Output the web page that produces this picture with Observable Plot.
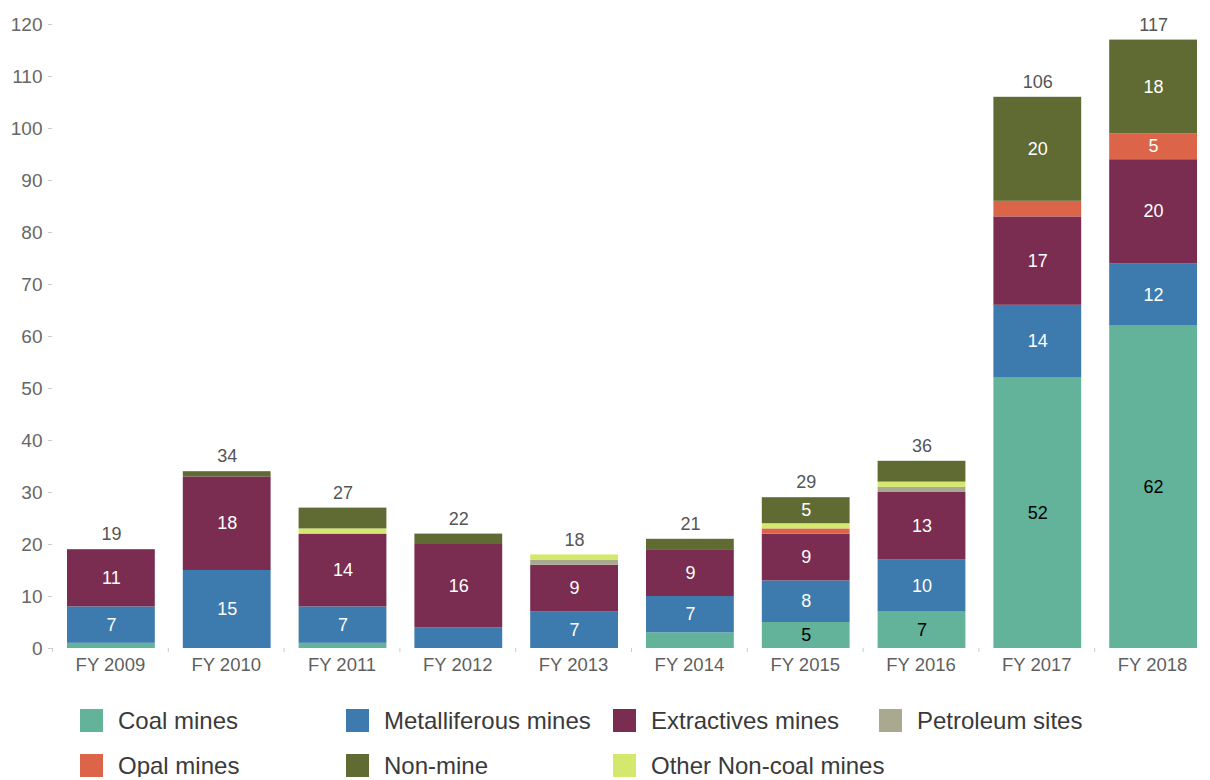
<!DOCTYPE html>
<html>
<head>
<meta charset="utf-8">
<script src="https://cdn.jsdelivr.net/npm/d3@7"></script>
<script src="https://cdn.jsdelivr.net/npm/@observablehq/plot@0.6"></script>
<style>
  html, body { margin: 0; background: #fff; overflow: hidden; font-family: "Liberation Sans", Arial, sans-serif; }
  #chart svg { display: block; max-width: none !important; }
  .legend { display: grid; grid-template-columns: 266px 267px 266px 266px; row-gap: 22px; margin-left: 80px; padding-top: 19px; }
  .item { display: flex; align-items: center; height: 23px; font-size: 24px; color: #3a3a3a; white-space: nowrap; }
  .sw { width: 23px; height: 23px; margin-right: 15px; flex: none; }
</style>
</head>
<body>
<div id="chart"></div>
<div class="legend" id="legend"></div>
<script>
const years = ["FY 2009","FY 2010","FY 2011","FY 2012","FY 2013","FY 2014","FY 2015","FY 2016","FY 2017","FY 2018"];
const categories = ["Coal mines","Metalliferous mines","Extractives mines","Petroleum sites","Opal mines","Other Non-coal mines","Non-mine"];
const colors = ["#63b39b","#3d7aad","#7a2d50","#a8a98f","#dc6448","#d5e86e","#606a33"];
const legendOrder = ["Coal mines","Metalliferous mines","Extractives mines","Petroleum sites","Opal mines","Non-mine","Other Non-coal mines"];

const coal        = [1, 0, 1, 0, 0, 3, 5, 7, 52, 62];
const metal       = [7, 15, 7, 4, 7, 7, 8, 10, 14, 12];
const extractives = [11, 18, 14, 16, 9, 9, 9, 13, 17, 20];
const petroleum   = [0, 0, 0, 0, 1, 0, 0, 1, 0, 0];
const opal        = [0, 0, 0, 0, 0, 0, 1, 0, 3, 5];
const otherNonCoal= [0, 0, 1, 0, 1, 0, 1, 1, 0, 0];
const nonMine     = [0, 1, 4, 2, 0, 2, 5, 4, 20, 18];
const yTicks = [0,10,20,30,40,50,60,70,80,90,100,110,120];

const series = [coal, metal, extractives, petroleum, opal, otherNonCoal, nonMine];
const data = [];
categories.forEach((c, ci) => years.forEach((y, yi) => data.push({year: y, cat: c, value: series[ci][yi]})));

const W = 1210, H = 690, ML = 52, MR = 0, MT = 24, MB = 42;
const step = (W - ML - MR) / years.length;
const font = '"Liberation Sans", Arial, sans-serif';

const stackOpts = {x: "year", y: "value", z: "cat", order: categories};

const chart = Plot.plot({
  width: W, height: H,
  marginLeft: ML, marginRight: MR, marginTop: MT, marginBottom: MB,
  style: {fontFamily: font, background: "#fff"},
  x: {domain: years, padding: 0, round: false},
  y: {domain: [0, 120]},
  color: {domain: categories, range: colors},
  marks: [
    Plot.axisY({ticks: yTicks, tickSize: 4, tickPadding: 6, stroke: "#cccccc", fill: "#666", fontSize: 19, label: null}),
    Plot.axisX({tickSize: 0, tickPadding: 9, fill: "#5f5f5f", fontSize: 18.5, label: null}),
    Plot.axisX({tickSize: 4, tickFormat: () => "", stroke: "#cccccc", dx: -step / 2, label: null}),
    Plot.barY(data, Plot.stackY({...stackOpts, fill: "cat", insetLeft: 15, insetRight: 13})),
    Plot.text(data, Plot.stackY({...stackOpts, text: d => (d.value >= 5 && d.cat !== "Coal mines") ? d.value : "", fill: "white", fontSize: 18, dx: 1})),
    Plot.text(data, Plot.stackY({...stackOpts, text: d => (d.value >= 5 && d.cat === "Coal mines") ? d.value : "", fill: "black", fontSize: 18, dx: 1})),
    Plot.text(data, Plot.groupX({y: "sum", text: "sum"}, {x: "year", y: "value", text: "value", dy: -15, dx: 1, fill: "#555", fontSize: 18}))
  ]
});
document.getElementById("chart").appendChild(chart);

const legend = document.getElementById("legend");
legendOrder.forEach(c => {
  const it = document.createElement("div");
  it.className = "item";
  const sw = document.createElement("span");
  sw.className = "sw";
  sw.style.background = colors[categories.indexOf(c)];
  it.appendChild(sw);
  it.appendChild(document.createTextNode(c));
  legend.appendChild(it);
});
</script>
</body>
</html>
